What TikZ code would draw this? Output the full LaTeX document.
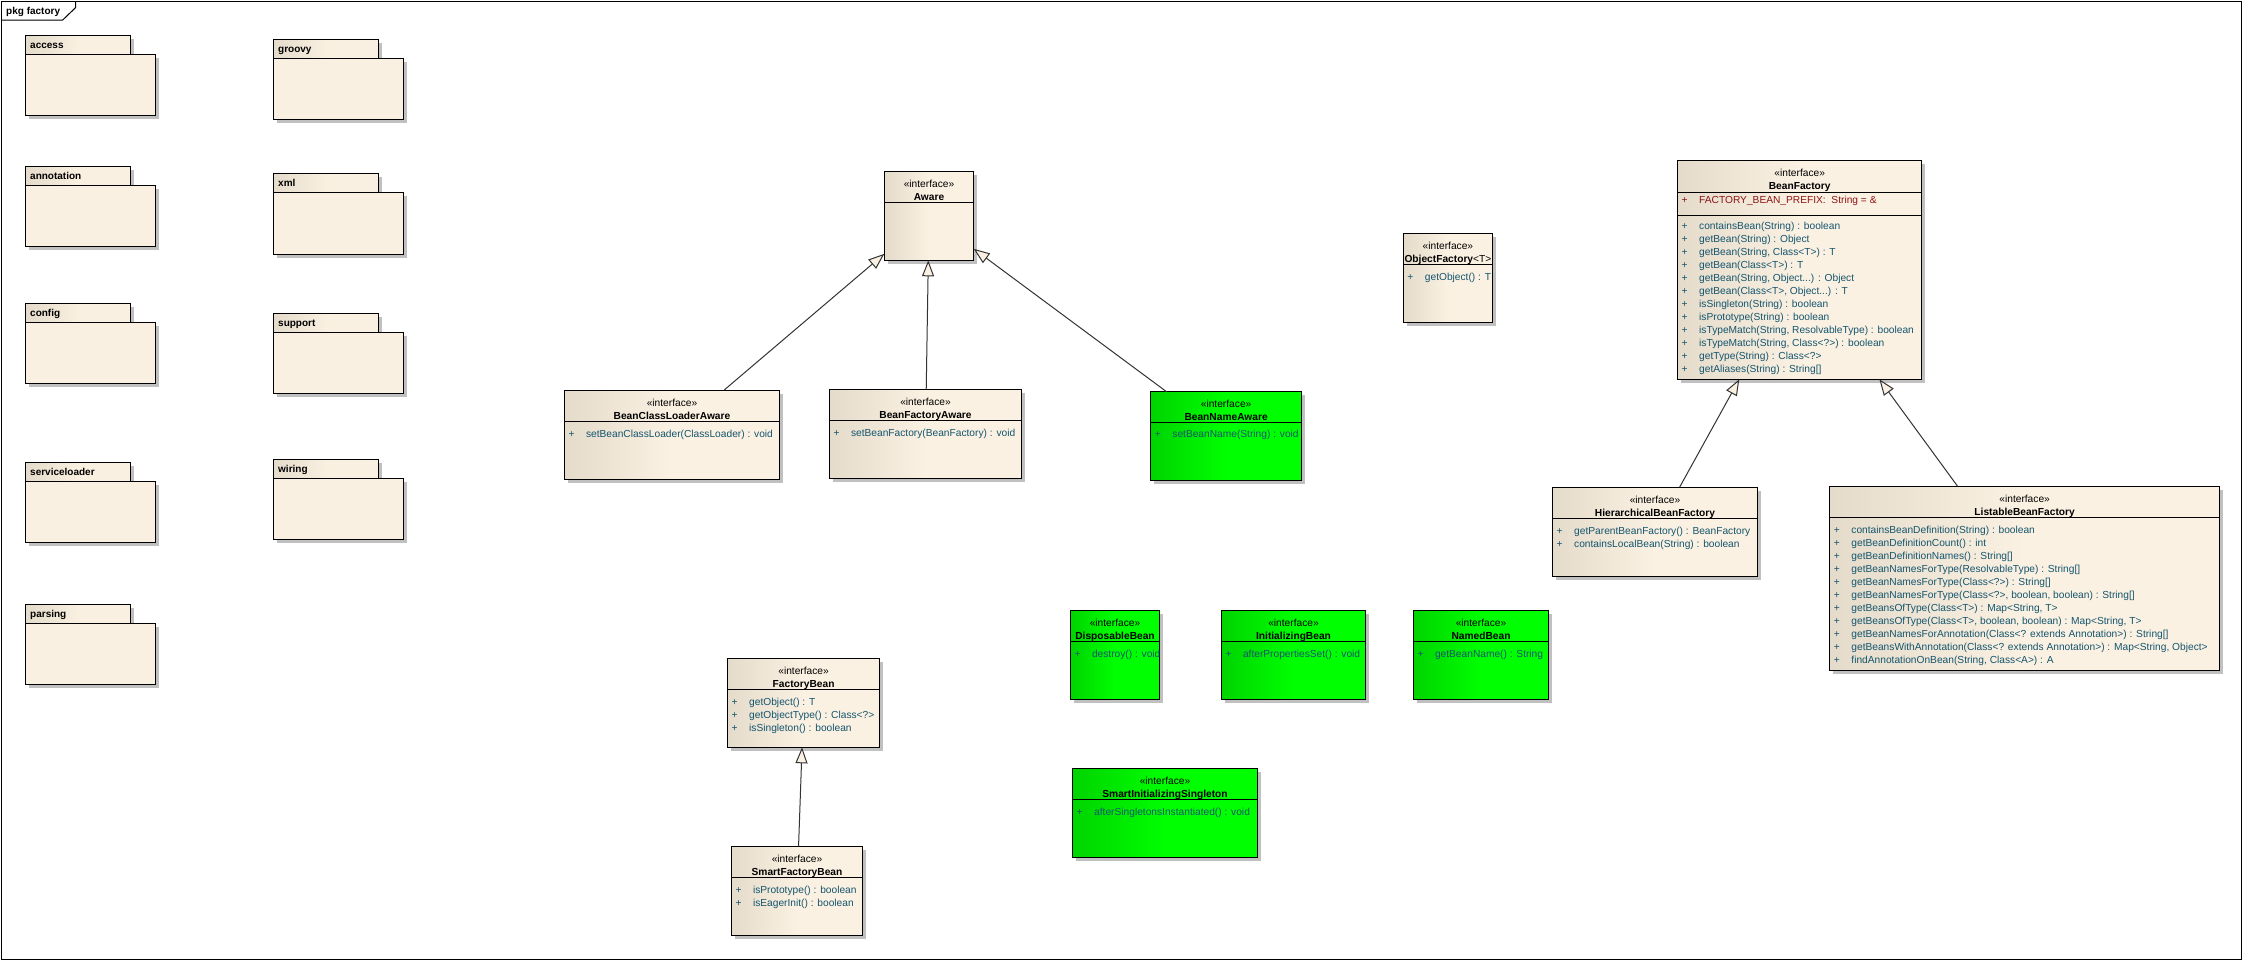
\documentclass[tikz,border=0pt]{standalone}
\usepackage{fontspec}
\setmainfont{Liberation Sans}
\usetikzlibrary{arrows.meta,shadows,positioning}

\definecolor{clsdark}{RGB}{228,219,203}
\definecolor{clslight}{RGB}{251,241,226}
\definecolor{pkgfill}{RGB}{250,240,225}
\definecolor{greendark}{RGB}{0,212,0}
\definecolor{greenlight}{RGB}{0,255,0}
\definecolor{opcolor}{RGB}{20,85,110}
\definecolor{attrcolor}{RGB}{140,20,20}
\definecolor{shadowgray}{RGB}{192,192,192}

\newcommand{\op}[1]{\makebox[17.5pt][l]{+}#1}

\begin{document}
\begin{tikzpicture}[x=1pt, y=-1pt,
  boxshadow/.style={general shadow={fill=shadowgray, shadow xshift=3.5pt, shadow yshift=-3.5pt}},
  cls/.style={draw, line width=1pt, inner sep=0pt, outer sep=0pt, boxshadow, left color=clsdark, right color=clslight, middle color=clslight},
  clsgreen/.style={cls, left color=greendark, right color=greenlight, middle color=greenlight},
  stereo/.style={inner sep=0pt, font=\fontsize{10.2}{12}\selectfont, text height=7.2pt, text depth=0pt},
  cname/.style={stereo, font=\fontsize{10.2}{12}\selectfont\bfseries},
  op/.style={stereo, anchor=west, text=opcolor},
  attr/.style={op, text=attrcolor},
  divider/.style={line width=1pt},
  inherit/.style={draw=black!80, line width=1pt, -{Triangle[length=16pt, width=12pt, fill=clslight]}},
  pkgtab/.style={draw, line width=1pt, anchor=north west, outer sep=0pt, boxshadow, minimum height=19pt, text width=96pt, inner xsep=4.5pt, inner ysep=0pt, align=left, font=\fontsize{10}{12}\selectfont\bfseries, text height=7.2pt, text depth=0pt, left color=clsdark, right color=pkgfill, middle color=pkgfill},
  pkgbody/.style={draw, line width=1pt, anchor=north west, outer sep=0pt, boxshadow, minimum width=130pt, minimum height=61.3pt, inner sep=0pt, fill=pkgfill},
  pkgframe/.style={line width=1pt}]
\useasboundingbox (0,0) rectangle (2245,961);

% frame
\draw[pkgframe] (1.5,1.5) rectangle (2241.5,959.5);
\draw[pkgframe] (1.5,20) -- (62.7,20) -- (75.7,7.5) -- (75.7,1.5);
\node[cname, anchor=west, font=\fontsize{10}{12}\selectfont\bfseries] (pkg) at (6,10.7) {pkg factory};

% packages
\node[pkgtab] (access-tab) at (25.7,35.3) {access};
\node[pkgbody] (access) at (access-tab.south west) {};
\node[pkgtab] (annotation-tab) at (25.7,166.5) {annotation};
\node[pkgbody] (annotation) at (annotation-tab.south west) {};
\node[pkgtab] (config-tab) at (25.7,303.6) {config};
\node[pkgbody] (config) at (config-tab.south west) {};
\node[pkgtab] (serviceloader-tab) at (25.7,462.5) {serviceloader};
\node[pkgbody] (serviceloader) at (serviceloader-tab.south west) {};
\node[pkgtab] (parsing-tab) at (25.7,604.5) {parsing};
\node[pkgbody] (parsing) at (parsing-tab.south west) {};
\node[pkgtab] (groovy-tab) at (273.7,39.3) {groovy};
\node[pkgbody] (groovy) at (groovy-tab.south west) {};
\node[pkgtab] (xml-tab) at (273.7,173.7) {xml};
\node[pkgbody] (xml) at (xml-tab.south west) {};
\node[pkgtab] (support-tab) at (273.7,313.4) {support};
\node[pkgbody] (support) at (support-tab.south west) {};
\node[pkgtab] (wiring-tab) at (273.7,459.4) {wiring};
\node[pkgbody] (wiring) at (wiring-tab.south west) {};

% Aware and its children
\node[cls, minimum width=89.4pt, minimum height=89pt] (aware) at (929,215.8) {};
\node[stereo] (aware-st) at (929,184.1) {«interface»};
\node[cname] (aware-nm) at (929,196.8) {Aware};
\draw[divider] (aware.west |- 0,202.3) -- (aware.east |- 0,202.3);

\node[cls, minimum width=215.4pt, minimum height=89pt] (bcla) at (672,434.5) {};
\node[stereo] (bcla-st) at (672,402.7) {«interface»};
\node[cname] (bcla-nm) at (672,415.7) {BeanClassLoaderAware};
\draw[divider] (bcla.west |- 0,421.3) -- (bcla.east |- 0,421.3);
\node[op] (bcla-op) at (568.3,433.7) {\op{setBeanClassLoader(ClassLoader) : void}};

\node[cls, minimum width=192.4pt, minimum height=89pt] (bfa) at (925.5,433.8) {};
\node[stereo] (bfa-st) at (925.5,402) {«interface»};
\node[cname] (bfa-nm) at (925.5,414.8) {BeanFactoryAware};
\draw[divider] (bfa.west |- 0,420.3) -- (bfa.east |- 0,420.3);
\node[op] (bfa-op) at (833.3,433) {\op{setBeanFactory(BeanFactory) : void}};

\node[clsgreen, minimum width=150.8pt, minimum height=88.3pt] (bna) at (1226.1,435.9) {};
\node[stereo] (bna-st) at (1226.1,404) {«interface»};
\node[cname] (bna-nm) at (1226.1,416.7) {BeanNameAware};
\draw[divider] (bna.west |- 0,422.7) -- (bna.east |- 0,422.7);
\node[op] (bna-op) at (1154.7,434.3) {\op{setBeanName(String) : void}};

% ObjectFactory
\node[cls, minimum width=89.3pt, minimum height=89pt] (objf) at (1447.9,277.8) {};
\node[stereo] (objf-st) at (1447.9,246) {«interface»};
\node[cname] (objf-nm) at (1447.9,258.7) {ObjectFactory\mdseries<T>};
\draw[divider] (objf.west |- 0,264.3) -- (objf.east |- 0,264.3);
\node[op] (objf-op) at (1407.2,277) {\op{getObject() : T}};

% BeanFactory
\node[cls, minimum width=244.3pt, minimum height=219pt] (bf) at (1799.7,269.8) {};
\node[stereo] (bf-st) at (1799.7,173.3) {«interface»};
\node[cname] (bf-nm) at (1799.7,185.7) {BeanFactory};
\draw[divider] (bf.west |- 0,192) -- (bf.east |- 0,192);
\node[attr] (bf-attr) at (1681.5,200) {\op{FACTORY\_BEAN\_PREFIX:\ \ String = \&}};
\draw[divider] (bf.west |- 0,215.7) -- (bf.east |- 0,215.7);
\foreach \m [count=\i from 0] in {containsBean(String) : boolean, getBean(String) : Object,
    {getBean(String, Class<T>) : T}, getBean(Class<T>) : T, {getBean(String, Object.{}.{}.) : Object},
    {getBean(Class<T>, Object.{}.{}.) : T}, isSingleton(String) : boolean, isPrototype(String) : boolean,
    {isTypeMatch(String, ResolvableType) : boolean}, {isTypeMatch(String, Class<?>) : boolean},
    getType(String) : Class<?>, getAliases(String) : String[]}
  \node[op] (bf-op\i) at (1681.5,225.7+13*\i) {\op{\m}};

\node[cls, minimum width=204.9pt, minimum height=89pt] (hbf) at (1655,531.8) {};
\node[stereo] (hbf-st) at (1655,500) {«interface»};
\node[cname] (hbf-nm) at (1655,512.7) {HierarchicalBeanFactory};
\draw[divider] (hbf.west |- 0,518.3) -- (hbf.east |- 0,518.3);
\foreach \m [count=\i from 0] in {getParentBeanFactory() : BeanFactory, containsLocalBean(String) : boolean}
  \node[op] (hbf-op\i) at (1556.5,531+12.8*\i) {\op{\m}};

\node[cls, minimum width=389.8pt, minimum height=183.7pt] (lbf) at (2024.6,578.2) {};
\node[stereo] (lbf-st) at (2024.6,499) {«interface»};
\node[cname] (lbf-nm) at (2024.6,511.7) {ListableBeanFactory};
\draw[divider] (lbf.west |- 0,517.3) -- (lbf.east |- 0,517.3);
\foreach \m [count=\i from 0] in {containsBeanDefinition(String) : boolean, getBeanDefinitionCount() : int,
    getBeanDefinitionNames() : String[], getBeanNamesForType(ResolvableType) : String[],
    getBeanNamesForType(Class<?>) : String[], {getBeanNamesForType(Class<?>, boolean, boolean) : String[]},
    {getBeansOfType(Class<T>) : Map<String, T>}, {getBeansOfType(Class<T>, boolean, boolean) : Map<String, T>},
    getBeanNamesForAnnotation(Class<? extends Annotation>) : String[],
    {getBeansWithAnnotation(Class<? extends Annotation>) : Map<String, Object>},
    {findAnnotationOnBean(String, Class<A>) : A}}
  \node[op] (lbf-op\i) at (1833.7,530+13*\i) {\op{\m}};

% FactoryBean
\node[cls, minimum width=152.1pt, minimum height=89pt] (fb) at (803.6,702.8) {};
\node[stereo] (fb-st) at (803.6,671) {«interface»};
\node[cname] (fb-nm) at (803.6,683.7) {FactoryBean};
\draw[divider] (fb.west |- 0,689.3) -- (fb.east |- 0,689.3);
\foreach \m [count=\i from 0] in {getObject() : T, getObjectType() : Class<?>, isSingleton() : boolean}
  \node[op] (fb-op\i) at (731.5,701.7+13*\i) {\op{\m}};

\node[cls, minimum width=131.4pt, minimum height=89.3pt] (sfb) at (797,890.7) {};
\node[stereo] (sfb-st) at (797,859) {«interface»};
\node[cname] (sfb-nm) at (797,871.7) {SmartFactoryBean};
\draw[divider] (sfb.west |- 0,877.3) -- (sfb.east |- 0,877.3);
\foreach \m [count=\i from 0] in {isPrototype() : boolean, isEagerInit() : boolean}
  \node[op] (sfb-op\i) at (735.3,889.7+13*\i) {\op{\m}};

% lifecycle interfaces
\node[clsgreen, minimum width=89.4pt, minimum height=89pt] (db) at (1115,654.8) {};
\node[stereo] (db-st) at (1115,623.3) {«interface»};
\node[cname] (db-nm) at (1115,635.7) {DisposableBean};
\draw[divider] (db.west |- 0,641.7) -- (db.east |- 0,641.7);
\node[op] (db-op) at (1074.3,653.7) {\op{destroy() : void}};

\node[clsgreen, minimum width=144.4pt, minimum height=89pt] (ib) at (1293.5,654.8) {};
\node[stereo] (ib-st) at (1293.5,623.3) {«interface»};
\node[cname] (ib-nm) at (1293.5,635.7) {InitializingBean};
\draw[divider] (ib.west |- 0,641.7) -- (ib.east |- 0,641.7);
\node[op] (ib-op) at (1225.3,653.7) {\op{afterPropertiesSet() : void}};

\node[clsgreen, minimum width=135.4pt, minimum height=89pt] (nb) at (1481,654.8) {};
\node[stereo] (nb-st) at (1481,623.3) {«interface»};
\node[cname] (nb-nm) at (1481,635.7) {NamedBean};
\draw[divider] (nb.west |- 0,641.7) -- (nb.east |- 0,641.7);
\node[op] (nb-op) at (1417.3,653.7) {\op{getBeanName() : String}};

\node[clsgreen, minimum width=185pt, minimum height=89pt] (sis) at (1165,812.8) {};
\node[stereo] (sis-st) at (1165,780.7) {«interface»};
\node[cname] (sis-nm) at (1165,793.7) {SmartInitializingSingleton};
\draw[divider] (sis.west |- 0,799.3) -- (sis.east |- 0,799.3);
\node[op] (sis-op) at (1076.5,811.7) {\op{afterSingletonsInstantiated() : void}};

% generalizations
\draw[inherit] (bcla) -- (aware);
\draw[inherit] (bfa) -- (aware);
\draw[inherit] (bna) -- (aware);
\draw[inherit] (hbf) -- (bf);
\draw[inherit] (lbf) -- (bf);
\draw[inherit] (sfb) -- (fb);
\end{tikzpicture}
\end{document}
